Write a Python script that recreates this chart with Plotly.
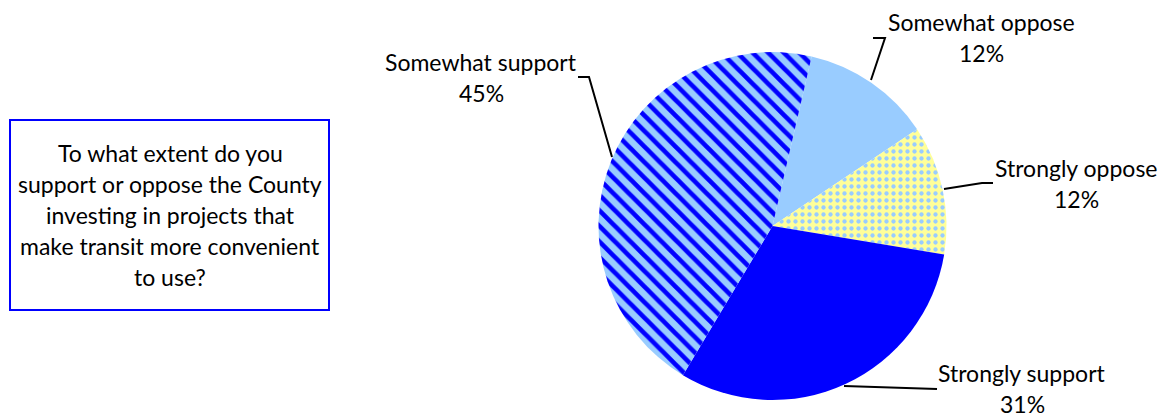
import plotly.graph_objects as go

labels = ["Somewhat oppose", "Strongly oppose", "Strongly support", "Somewhat support"]
values = [12, 12, 31, 45]
colors = ["#99CCFF", "#FFFF99", "#0000FF", "#99CCFF"]
question = ["To what extent do you", "support or oppose the County",
            "investing in projects that", "make transit more convenient", "to use?"]

OFF = 8  # page body margin
W, H = 1167 - OFF, 413 - OFF
FONT = "Lato"
FS = 23

def px(x):
    return (x - OFF) / W

def py(y):
    return 1 - (y - OFF) / H

fig = go.Figure(go.Pie(
    labels=labels,
    values=values,
    sort=False,
    direction="clockwise",
    rotation=13,
    textinfo="none",
    hoverinfo="label+percent",
    marker=dict(
        colors=colors,
        line=dict(width=0),
        pattern=dict(
            shape=["", ".", "", "\\"],
            fgcolor=["#99CCFF", "#99CCFF", "#0000FF", "#0000FF"],
            bgcolor=colors,
            size=[8, 7, 8, 11],
            solidity=[0.3, 0.3, 0.3, 0.42],
            fillmode="replace",
        ),
    ),
    domain=dict(x=[px(598.5), px(946.5)], y=[py(400), py(52)]),
    showlegend=False,
))

label_pos = {
    "Somewhat support": (481, 62),
    "Somewhat oppose": (981, 22),
    "Strongly oppose": (1076, 168),
    "Strongly support": (1022, 373),
}
annotations = []
for lab, val in zip(labels, values):
    x, y = label_pos[lab]
    annotations.append(dict(x=px(x), y=py(y), xref="paper", yref="paper", text=lab,
                            showarrow=False, xanchor="center", yanchor="middle",
                            font=dict(family=FONT, size=FS, color="#000000")))
    annotations.append(dict(x=px(x), y=py(y + 31), xref="paper", yref="paper", text=f"{val}%",
                            showarrow=False, xanchor="center", yanchor="middle",
                            font=dict(family=FONT, size=FS, color="#000000")))

for i, line in enumerate(question):
    annotations.append(dict(x=px(170), y=py(153 + 31 * i), xref="paper", yref="paper", text=line,
                            showarrow=False, xanchor="center", yanchor="middle",
                            font=dict(family=FONT, size=FS, color="#000000")))

leaders = [
    [(578, 77), (589, 77), (612, 157)],
    [(873, 38), (885, 38), (871, 80)],
    [(993, 183), (982, 183), (944, 189)],
    [(937, 389), (844, 386)],
]
shapes = []
for pts in leaders:
    path = "M " + " L ".join(f"{px(x)} {py(y)}" for x, y in pts)
    shapes.append(dict(type="path", path=path, xref="paper", yref="paper",
                       line=dict(color="#000000", width=2)))

shapes.append(dict(type="rect", xref="paper", yref="paper",
                   x0=px(10), x1=px(329), y0=py(310), y1=py(120),
                   line=dict(color="#0000FF", width=2), fillcolor="rgba(0,0,0,0)"))

fig.update_layout(
    width=W, height=H,
    margin=dict(l=0, r=0, t=0, b=0),
    paper_bgcolor="#FFFFFF",
    plot_bgcolor="#FFFFFF",
    annotations=annotations,
    shapes=shapes,
    font=dict(family=FONT, size=FS),
)

fig.write_html("out.html")
